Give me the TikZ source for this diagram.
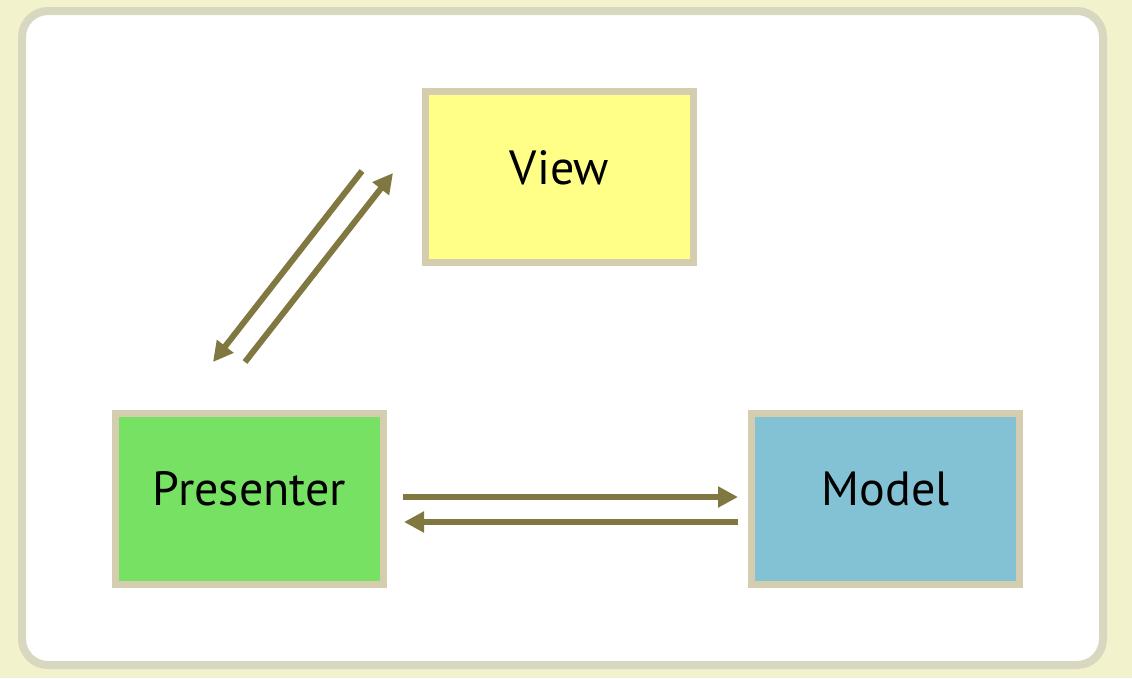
\documentclass[tikz,border=0pt]{standalone}
\usepackage{fontspec}
\setmainfont{PT Sans}
\usetikzlibrary{arrows.meta}
\definecolor{bgout}{RGB}{242,242,204}
\definecolor{frameline}{RGB}{216,216,192}
\definecolor{boxline}{RGB}{212,205,176}
\definecolor{arrowc}{RGB}{128,120,64}
\definecolor{viewfill}{RGB}{255,255,136}
\definecolor{presfill}{RGB}{119,225,99}
\definecolor{modelfill}{RGB}{130,194,212}
\tikzset{
  mvpbox/.style={draw=boxline, line width=7pt, minimum width=268pt, minimum height=171pt, inner sep=0pt, text height=36pt, text depth=22pt, font=\fontsize{48pt}{58pt}\selectfont, text=black},
  flow/.style={draw=arrowc, line width=6pt, -{Triangle[length=20pt,width=20pt]}}
}
\begin{document}
\begin{tikzpicture}[x=1pt,y=-1pt]
\fill[bgout] (0,0) rectangle (1132,678);
\useasboundingbox (0,0) rectangle (1132,678);
\draw[frameline, line width=8pt, fill=white, rounded corners=26pt] (22,11) rectangle (1103,665);
\node[mvpbox, fill=viewfill] (V) at (559.5,177) {View};
\node[mvpbox, fill=presfill] (P) at (249.5,498.5) {Presenter};
\node[mvpbox, fill=modelfill] (M) at (885.5,498.5) {Model};
\coordinate (vp1) at (362,171);
\coordinate (vp2) at (213,362);
\coordinate (pv1) at (245,362);
\coordinate (pv2) at (393,173);
\coordinate (pm1) at (403,497);
\coordinate (pm2) at (738,497);
\coordinate (mp1) at (738,522);
\coordinate (mp2) at (404,522);
\draw[flow] (vp1) -- (vp2);
\draw[flow] (pv1) -- (pv2);
\draw[flow] (pm1) -- (pm2);
\draw[flow] (mp1) -- (mp2);
\end{tikzpicture}
\end{document}
